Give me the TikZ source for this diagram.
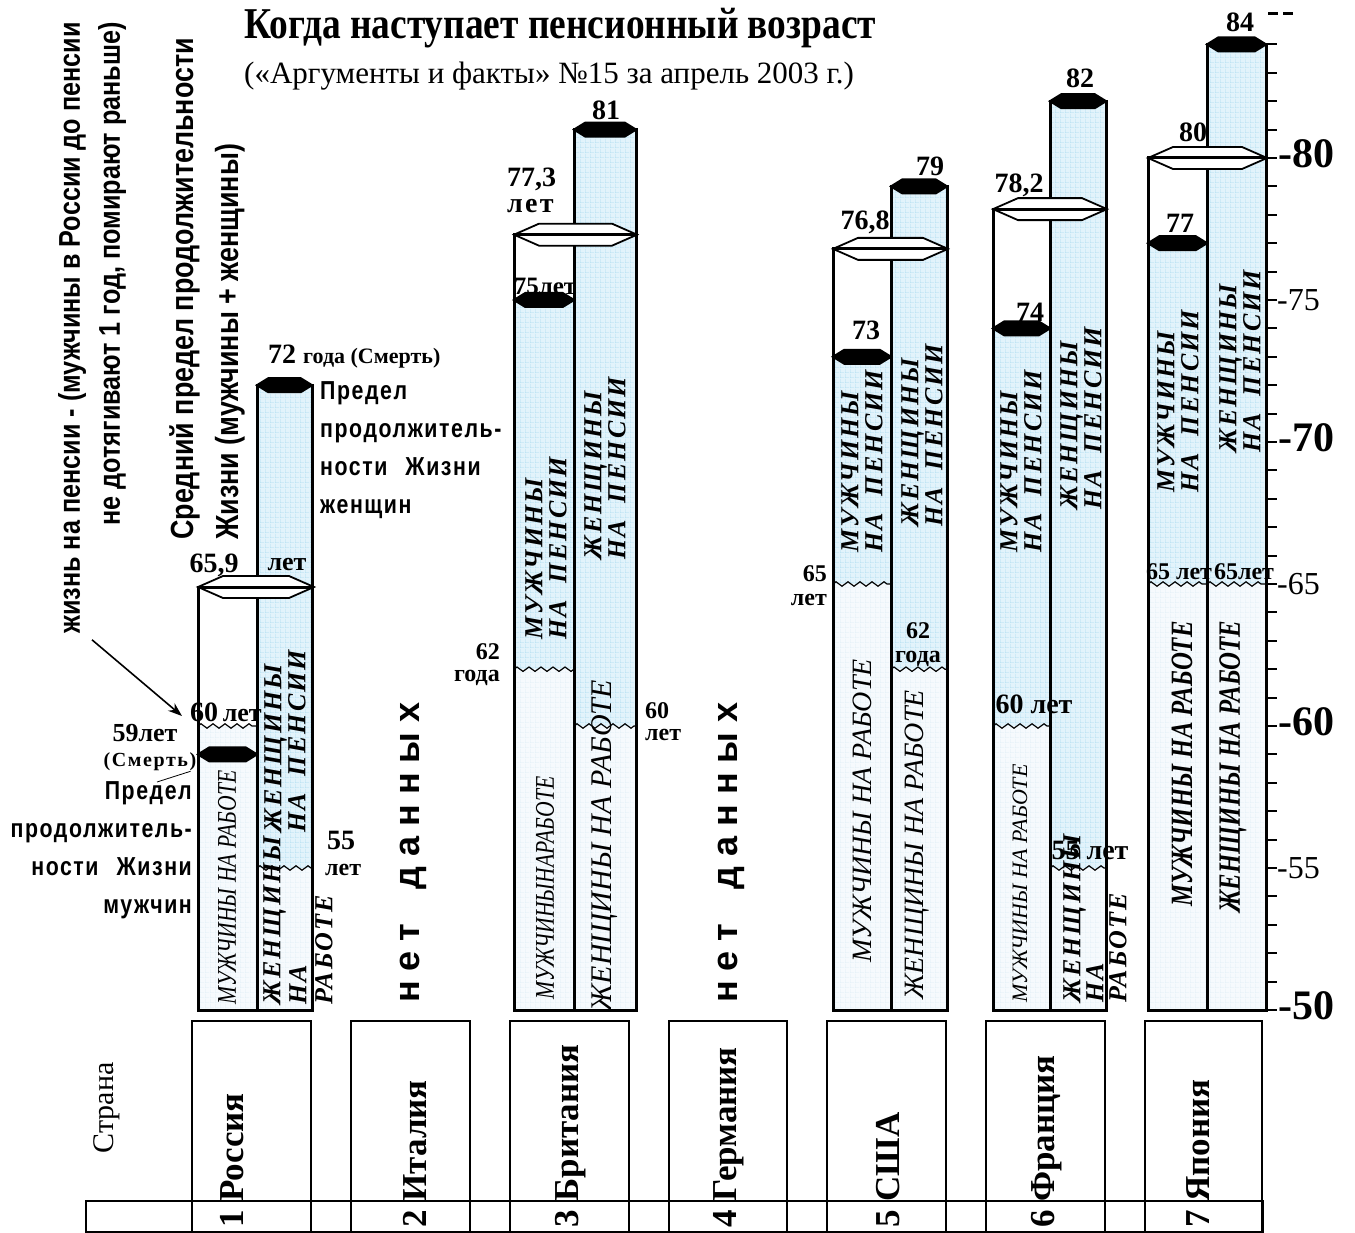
\documentclass[tikz,border=0pt]{standalone}
\usepackage{fontspec}
\setmainfont{Liberation Serif}
\newfontfamily\nsans{Liberation Sans}[FakeStretch=0.84]
\newfontfamily\ssans{Liberation Sans}[FakeStretch=0.82,LetterSpace=6]
\newfontfamily\wsans{Liberation Sans}
\newfontfamily\cserif{Liberation Serif}[FakeStretch=0.8]
\newfontfamily\tserif{Liberation Serif}[FakeStretch=0.85]
\newfontfamily\sserif{Liberation Serif}[LetterSpace=8]
\usetikzlibrary{patterns,decorations.pathmorphing,arrows.meta}

\definecolor{penblue}{RGB}{226,243,251}
\definecolor{gridblue}{RGB}{172,220,240}
\definecolor{workpale}{RGB}{246,250,253}
\definecolor{gridpale}{RGB}{222,238,246}

\pgfdeclarepatternformonly{bgrid}{\pgfpointorigin}{\pgfqpoint{5pt}{5pt}}{\pgfqpoint{5pt}{5pt}}{%
  \pgfsetlinewidth{0.6pt}%
  \pgfpathmoveto{\pgfpointorigin}\pgfpathlineto{\pgfqpoint{5pt}{0pt}}%
  \pgfpathmoveto{\pgfpointorigin}\pgfpathlineto{\pgfqpoint{0pt}{5pt}}%
  \pgfusepath{stroke}}

\newcommand{\fs}[1]{\fontsize{#1}{#1}\selectfont}

\tikzset{
  pens/.style={fill=penblue, postaction={pattern=bgrid, pattern color=gridblue}},
  work/.style={fill=workpale, postaction={pattern=bgrid, pattern color=gridpale}},
  barline/.style={draw, line width=3pt},
  wave/.style={decorate, decoration={zigzag, segment length=12pt, amplitude=2.2pt}, line width=1.2pt},
  num/.style={inner sep=0pt, font=\bfseries\fs{28}},
  inlab/.style={rotate=90, anchor=west, inner sep=0pt, align=left, font=\sserif\bfseries\itshape\fontsize{26}{24}\selectfont},
  worklab/.style={rotate=90, anchor=west, inner sep=0pt, font=\itshape\fs{28}},
  cbox/.style={draw, line width=1.8pt},
  clab/.style={rotate=90, anchor=west, inner sep=0pt, font=\bfseries\fs{35}},
}

% pension part from #3 down to the wave #4, work part below it
\newcommand{\colbar}[4]{%
  \pgfmathsetmacro\ytop{#3}\pgfmathsetmacro\ywave{#4}%
  \fill[pens] (#1,\ytop) rectangle (#2,\ywave);
  \fill[work] (#1,\ywave) rectangle (#2,1010);
  \draw[wave] (#1,\ywave) -- (#2,\ywave);}
% black cap = age of death
\newcommand{\blackcap}[3]{%
  \pgfmathsetmacro\yc{#3}%
  \fill ({#1-2},\yc) -- ({#1+11},\yc-8) -- ({#2-11},\yc-8) -- ({#2+2},\yc) -- ({#2-11},\yc+8) -- ({#1+11},\yc+8) -- cycle;}
% white cap = average age
\newcommand{\avgcap}[3]{%
  \pgfmathsetmacro\yc{#3}%
  \filldraw[fill=white, line width=1.8pt] (#1,\yc) -- ({#1+25},\yc-11) -- ({#2-25},\yc-11) -- (#2,\yc) -- ({#2-25},\yc+11) -- ({#1+25},\yc+11) -- cycle;
  \draw[line width=3pt] (#1,\yc) -- (#2,\yc);}

\begin{document}
\begin{tikzpicture}[x=1pt, y=-1pt, declare function={Y(\a)=1010-28.4*(\a-50);}]
\useasboundingbox (0,0) rectangle (1355,1233);

% title
\node[anchor=west, inner sep=0pt, font=\tserif\bfseries\fs{44}] (title) at (244,28) {Когда наступает пенсионный возраст};
\node[anchor=west, inner sep=0pt, font=\fs{31}] (source) at (244,76) {(«Аргументы и факты» №15 за апрель 2003 г.)};

% columns
\colbar{198}{257}{Y(60)}{Y(60)}
\colbar{257}{312}{Y(72)}{Y(55)}
\colbar{514}{574}{Y(75)}{Y(62)}
\colbar{574}{636}{Y(81)}{Y(60)}
\colbar{833}{891}{Y(73)}{Y(65)}
\colbar{891}{947}{Y(79)}{Y(62)}
\colbar{993}{1050}{Y(74)}{Y(60)}
\colbar{1050}{1106}{Y(82)}{Y(55)}
\colbar{1148}{1207}{Y(77)}{Y(65)}
\colbar{1207}{1266}{Y(84)}{Y(65)}

\draw[barline] (198,587) rectangle (257,1010);
\draw[barline] (257,{Y(72)}) rectangle (312,1010);
\draw[barline] (514,{Y(77.3)}) rectangle (574,1010);
\draw[barline] (574,{Y(81)}) rectangle (636,1010);
\draw[barline] (833,{Y(76.8)}) rectangle (891,1010);
\draw[barline] (891,{Y(79)}) rectangle (947,1010);
\draw[barline] (993,{Y(78.2)}) rectangle (1050,1010);
\draw[barline] (1050,{Y(82)}) rectangle (1106,1010);
\draw[barline] (1148,{Y(80)}) rectangle (1207,1010);
\draw[barline] (1207,{Y(84)}) rectangle (1266,1010);

\avgcap{198}{314}{587}
\blackcap{198}{257}{Y(59)}
\blackcap{257}{312}{Y(72)}
\avgcap{514}{637}{Y(77.3)}
\blackcap{514}{574}{Y(75)}
\blackcap{574}{636}{Y(81)}
\avgcap{833}{948}{Y(76.8)}
\blackcap{833}{891}{Y(73)}
\blackcap{891}{947}{Y(79)}
\avgcap{993}{1107}{Y(78.2)}
\blackcap{993}{1050}{Y(74)}
\blackcap{1050}{1106}{Y(82)}
\avgcap{1148}{1267}{Y(80)}
\blackcap{1148}{1207}{Y(77)}
\blackcap{1207}{1266}{Y(84)}

% age scale
\draw[line width=3pt] (1266,{Y(84)}) -- (1266,1012);
\foreach \a in {50,...,84}
  \draw[line width=2pt] (1266,{Y(\a)}) -- ++(11,0);
\foreach \a in {80,70,60,50}
  \node[anchor=west, inner sep=0pt, font=\bfseries\fs{42}] (s\a) at (1278,{Y(\a)-4}) {-\a};
\foreach \a in {75,65,55}
  \node[anchor=west, inner sep=0pt, font=\fs{32}] (s\a) at (1277,{Y(\a)}) {-\a};
\draw[line width=3pt] (1268,14) -- (1278,14) (1283,14) -- (1293,14);

% notes on the left
\node[rotate=90, anchor=east, align=right, inner sep=0pt, font=\nsans\bfseries\fontsize{30}{40}\selectfont] (lifeA) at (92,22)
  {жизнь на пенсии - (мужчины в России до пенсии\\не дотягивают 1 год, помирают раньше)};
\node[rotate=90, anchor=west, align=left, inner sep=0pt, font=\nsans\bfseries\fontsize{32}{45}\selectfont] (avgA) at (207,540)
  {Средний предел продолжительности\\Жизни (мужчины + женщины)};
\node[anchor=east, align=right, inner sep=0pt, font=\ssans\bfseries\fontsize{26}{38}\selectfont] (limM) at (192,850)
  {Предел\\продолжитель-\\ности\hspace{18pt}Жизни\\мужчин};
\node[anchor=west, align=left, inner sep=0pt, font=\ssans\bfseries\fontsize{26}{38}\selectfont] (limW) at (320,450)
  {Предел\\продолжитель-\\ности\hspace{18pt}Жизни\\женщин};

% Russia
\node[anchor=west, inner sep=0pt, font=\bfseries] (r72) at (268,357) {\fs{28}72 {\fs{22}года (Смерть)}};
\node[num] (r659) at (214,565) {65,9};
\node[num, font=\bfseries\fs{26}] (r659y) at (287,565) {лет};
\node[num, anchor=west] (r60) at (190,712) {60\,{\fs{26}лет}};
\node[num, font=\bfseries\fs{26}] (r59) at (145,733) {59лет};
\node[num, font=\sserif\bfseries\fs{20}] (rdeath) at (150,762) {(Смерть)};
\node[num, anchor=west] (r55) at (327,840) {55};
\node[num, anchor=west, font=\bfseries\fs{24}] (r55y) at (325,870) {лет};
\draw[-{Stealth[length=14pt,width=10pt]}, line width=1.6pt] ([yshift=-6pt]lifeA.west) -- ([xshift=-8pt, yshift=-4pt]r60.west);
\coordinate (lead) at (157,782);
\draw[line width=0.8pt] (lead) -- ([xshift=-6pt]rdeath.south east);
\node[worklab, font=\cserif\itshape\fs{27}] (rmw) at (227,1005) {МУЖЧИНЫ НА РАБОТЕ};
\node[inlab] (rwp) at (285,833) {ЖЕНЩИНЫ\\НА\ \ ПЕНСИИ};
\node[inlab, font=\sserif\bfseries\itshape\fontsize{26}{26}\selectfont] (rww) at (298,1005) {ЖЕНЩИНЫ\\НА\\РАБОТЕ};

% Italy, Germany
\node[rotate=90, anchor=west, inner sep=0pt, font=\wsans\bfseries\fs{36}] (itnd) at (413,1003) {н е т\hspace{34pt}д а н н ы х};
\node[rotate=90, anchor=west, inner sep=0pt, font=\wsans\bfseries\fs{36}] (dend) at (731,1003) {н е т\hspace{34pt}д а н н ы х};

% Britain
\node[num] (b81) at (606,110) {81};
\node[num, anchor=west, align=left, font=\bfseries\fontsize{28}{26}\selectfont] (b773) at (507,190) {77,3\\{\sserif лет}};
\node[num, font=\bfseries\fs{25}] (b75) at (545,286) {75лет};
\node[num, anchor=east, align=right, font=\bfseries\fontsize{24}{22}\selectfont] (b62) at (500,665) {62\\года};
\node[num, anchor=west, align=left, font=\bfseries\fontsize{24}{22}\selectfont] (b60) at (645,722) {60\\лет};
\node[inlab] (bmp) at (546,640) {МУЖЧИНЫ\\НА\ \ ПЕНСИИ};
\node[inlab] (bwp) at (605,560) {ЖЕНЩИНЫ\\НА\ \ ПЕНСИИ};
\node[worklab, font=\cserif\itshape\fs{27}] (bmw) at (545,1000) {МУЖЧИНЫНАРАБОТЕ};
\node[worklab, font=\itshape\fs{30}] (bww) at (605,1012) {ЖЕНЩИНЫ НА РАБОТЕ};

% USA
\node[num] (u79) at (930,166) {79};
\node[num] (u768) at (865,222) {76,8};
\node[num] (u73) at (866,330) {73};
\node[num, anchor=east, align=right, font=\bfseries\fontsize{24}{24}\selectfont] (u65) at (827,586) {65\\лет};
\node[num, align=center, font=\bfseries\fontsize{24}{24}\selectfont] (u62) at (918,645) {62\\года};
\node[inlab] (ump) at (862,553) {МУЖЧИНЫ\\НА\ \ ПЕНСИИ};
\node[inlab] (uwp) at (922,527) {ЖЕНЩИНЫ\\НА\ \ ПЕНСИИ};
\node[worklab] (umw) at (862,963) {МУЖЧИНЫ НА РАБОТЕ};
\node[worklab] (uww) at (917,1000) {ЖЕНЩИНЫ НА РАБОТЕ};

% France
\node[num] (f82) at (1080,78) {82};
\node[num] (f782) at (1019,185) {78,2};
\node[num] (f74) at (1030,312) {74};
\node[num] (f60) at (1034,704) {60 лет};
\node[num] (f55) at (1090,850) {55 лет};
\node[inlab] (fmp) at (1021,553) {МУЖЧИНЫ\\НА\ \ ПЕНСИИ};
\node[inlab] (fwp) at (1081,510) {ЖЕНЩИНЫ\\НА\ \ ПЕНСИИ};
\node[worklab, font=\itshape\fs{22}] (fmw) at (1020,1003) {МУЖЧИНЫ НА РАБОТЕ};
\node[inlab, font=\sserif\bfseries\itshape\fontsize{26}{23}\selectfont] (fww) at (1095,1003) {ЖЕНЩИНЫ\\НА\\РАБОТЕ};

% Japan
\node[num] (j84) at (1240,22) {84};
\node[num] (j80) at (1193,132) {80};
\node[num] (j77) at (1180,223) {77};
\node[num, font=\bfseries\fs{24}] (j65m) at (1179,572) {65 лет};
\node[num, font=\bfseries\fs{24}] (j65w) at (1244,572) {65лет};
\node[inlab] (jmp) at (1178,493) {МУЖЧИНЫ\\НА\ \ ПЕНСИИ};
\node[inlab] (jwp) at (1240,453) {ЖЕНЩИНЫ\\НА\ \ ПЕНСИИ};
\node[worklab, font=\cserif\bfseries\itshape\fs{31}] (jmw) at (1182,907) {МУЖЧИНЫ НА РАБОТЕ};
\node[worklab, font=\cserif\bfseries\itshape\fs{31}] (jww) at (1233,913) {ЖЕНЩИНЫ НА РАБОТЕ};

% country table
\draw[cbox] (86,1201) rectangle (1263,1232);
\foreach \xa/\xb in {192/311, 351/470, 510/629, 669/787, 827/946, 986/1105, 1145/1262}
  \draw[cbox] (\xa,1021) rectangle (\xb,1232);
\node[rotate=90, inner sep=0pt, font=\fs{30}] (strana) at (107,1108) {Страна};
\node[clab] (c1) at (232,1228) {1 Россия};
\node[clab] (c2) at (415,1228) {2 Италия};
\node[clab] (c3) at (571,1228) {3 Британия};
\node[clab] (c4) at (729,1228) {4 Германия};
\node[clab] (c5) at (888,1228) {5 США};
\node[clab] (c6) at (1047,1228) {6 Франция};
\node[clab] (c7) at (1198,1228) {7 Япония};
\end{tikzpicture}
\end{document}
